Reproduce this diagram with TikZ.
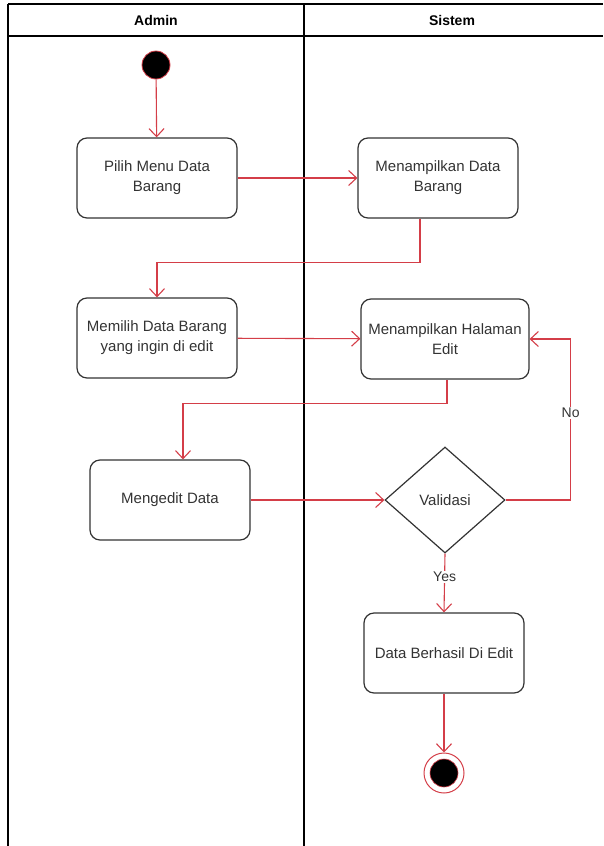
\documentclass[tikz,border=0pt]{standalone}
\usepackage{fontspec}
\setmainfont{Liberation Sans}
\usepackage{tikz}
\usetikzlibrary{positioning}
\usetikzlibrary{arrows.meta}
\usetikzlibrary{shapes.geometric}
\definecolor{flowred}{RGB}{212,62,72}
\definecolor{boxgray}{RGB}{51,51,51}
\tikzset{
    lane/.style={ % Lines of the swimlanes
        draw=black,
        line width=1.2pt
    },
    activity/.style={ % Sets the properties for each action
        draw=boxgray,
        line width=1.2pt,
        rounded corners=10pt,
        minimum width=160pt,
        minimum height=80pt,
        align=center,
        text=boxgray,
        font=\fontsize{15}{20}\selectfont
    },
    decision/.style={ % Validation diamond
        diamond,
        draw=boxgray,
        line width=1.2pt,
        inner sep=0pt,
        minimum width=120pt,
        minimum height=106pt,
        text=boxgray,
        font=\fontsize{15}{20}\selectfont
    },
    flow/.style={ % Sets the properties for each transition
        draw=flowred,
        line width=1.1pt,
        -{Straight Barb[length=8pt,width=15pt,line width=1.1pt]}
    },
    guard/.style={ % Labels on the transitions
        fill=white,
        inner sep=1pt,
        text=boxgray,
        font=\fontsize{14}{16}\selectfont
    }
}

\begin{document}
\begin{tikzpicture}[x=1pt,y=-1pt]
    \useasboundingbox (0,0) rectangle (603,846);

    % swimlanes
    \draw[lane] (8,4) -- (603,4);
    \draw[lane] (8,36) -- (603,36);
    \draw[lane] (8,4) -- (8,846);
    \draw[lane] (304,4) -- (304,846);
    \node[font=\bfseries\fontsize{14}{16}\selectfont] (admin) at (156,20) {Admin};
    \node[font=\bfseries\fontsize{14}{16}\selectfont] (sistem) at (452,20) {Sistem};

    % actions
    \node[circle, fill=black, draw=flowred, line width=0.8pt, minimum size=28pt, inner sep=0pt] (start) at (156,65) {};
    \node[activity] (pilih) at (157,178) {Pilih Menu Data\\Barang};
    \node[activity] (tampil) at (438,178) {Menampilkan Data\\Barang};
    \node[activity] (memilih) at (157,338) {Memilih Data Barang\\yang ingin di edit};
    \node[activity, minimum width=168pt, inner xsep=0pt] (halaman) at (445,339) {Menampilkan Halaman\\Edit};
    \node[activity] (edit) at (170,500) {Mengedit Data};
    \node[decision] (validasi) at (445,500) {Validasi};
    \node[activity] (berhasil) at (444,653) {Data Berhasil Di Edit};
    \node[circle, draw=flowred, fill=white, line width=1pt, minimum size=40pt, inner sep=0pt] (end) at (444,773) {};
    \node[circle, fill=black, draw=flowred, line width=0.6pt, minimum size=28pt, inner sep=0pt] at (end) {};

    % transitions
    \draw[flow] (start) -- (pilih);
    \draw[flow] (pilih) -- (tampil);
    \draw[flow] ([xshift=-18pt]tampil.south) -- ++(0,44) -| (memilih.north);
    \draw[flow] (memilih) -- (halaman);
    \draw[flow] ([xshift=2pt]halaman.south) -- ++(0,24) -| ([xshift=13pt]edit.north);
    \draw[flow] (edit) -- (validasi);
    \draw[flow] (validasi.east) -- ++(65,0) |- node[guard, pos=0.27] {No} (halaman.east);
    \draw[flow] (validasi.south) -- node[guard, pos=0.4] {Yes} (berhasil.north);
    \draw[flow] (berhasil) -- (end);
\end{tikzpicture}
\end{document}
